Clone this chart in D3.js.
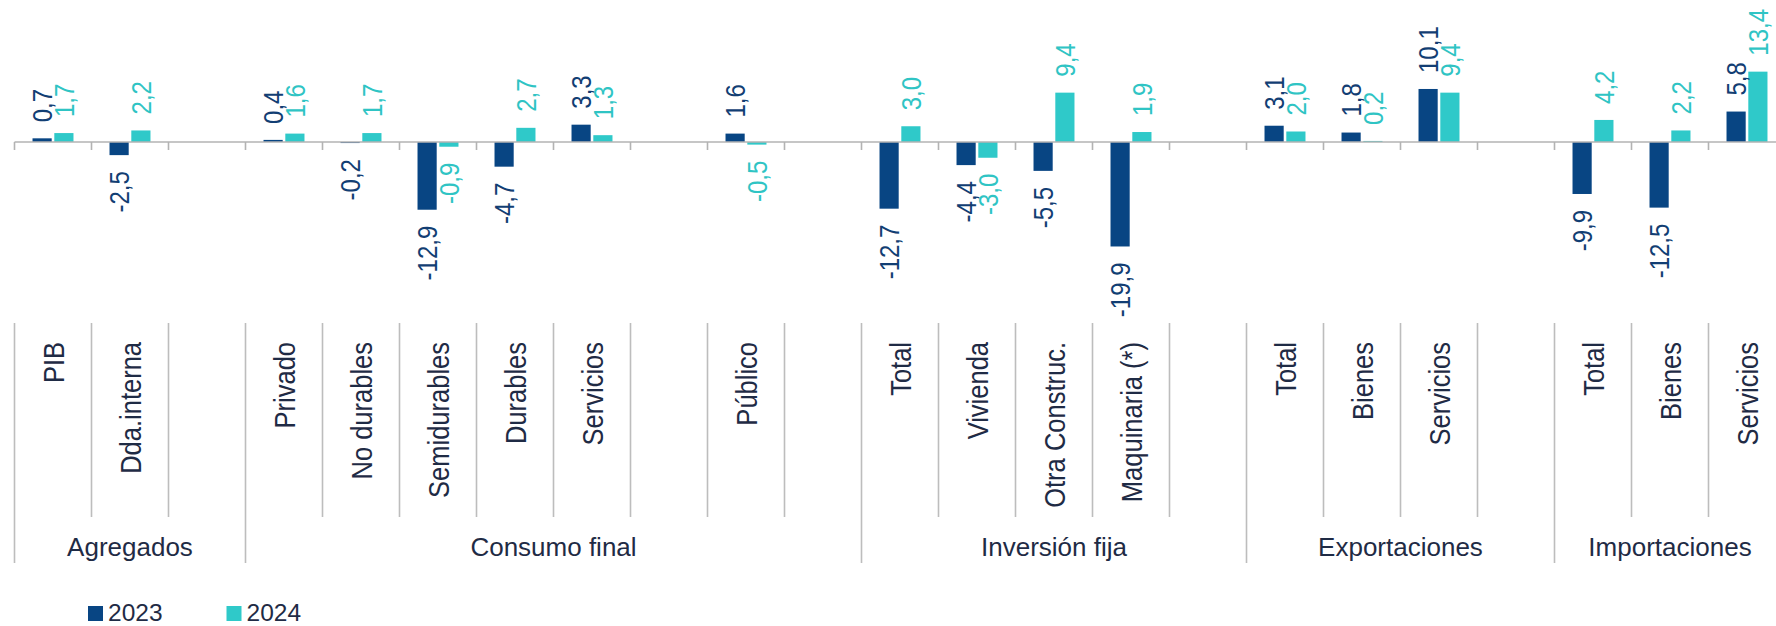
<!DOCTYPE html>
<html>
<head>
<meta charset="utf-8">
<script src="https://cdn.jsdelivr.net/npm/d3@7"></script>
<style>
  html, body { margin: 0; padding: 0; background: #ffffff; }
  svg { display: block; font-family: "Liberation Sans", Arial, sans-serif; }
</style>
</head>
<body>
<svg id="chart" width="1776" height="626"></svg>
<script>
// Category slots (empty strings are spacer slots between subgroups)
const categories = [
  "PIB", "Dda.interna", "",
  "Privado", "No durables", "Semidurables", "Durables", "Servicios", "", "Público", "",
  "Total", "Vivienda", "Otra Construc.", "Maquinaria (*)", "",
  "Total", "Bienes", "Servicios", "",
  "Total", "Bienes", "Servicios"
];
// Outer groups: label and number of slots each spans
const groupNames = ["Agregados", "Consumo final", "Inversión fija", "Exportaciones", "Importaciones"];
const groupSpans = [3, 8, 5, 4, 3];

const seriesNames = ["2023", "2024"];
const values2023 = [0.7, -2.5, null, 0.4, -0.2, -12.9, -4.7, 3.3, null, 1.6, null,
                    -12.7, -4.4, -5.5, -19.9, null, 3.1, 1.8, 10.1, null, -9.9, -12.5, 5.8];
const values2024 = [1.7, 2.2, null, 1.6, 1.7, -0.9, 2.7, 1.3, null, -0.5, null,
                    3.0, -3.0, 9.4, 1.9, null, 2.0, 0.2, 9.4, null, 4.2, 2.2, 13.4];

const colors = { "2023": "#084583", "2024": "#2fc9c9" };
const labelColors = { "2023": "#123e73", "2024": "#2fc4c4" };
const textColor = "#1f2b45";
const gridGrey = "#bdbdbd";
// rotated labels are drawn slightly wider across the glyphs
const rotStretch = 1.17;

const svg = d3.select("#chart");

const x = d3.scaleBand()
  .domain(d3.range(categories.length))
  .range([14.5, 1785.5])
  .paddingInner(0).paddingOuter(0);
const bw = x.bandwidth();

const x1 = d3.scaleBand()
  .domain(seriesNames)
  .range([bw * 0.234, bw * 0.766])
  .paddingInner(0.12);

const y = d3.scaleLinear().domain([-20, 15]).range([247, 63.25]);
const y0 = y(0);

const rows = categories.map((c, i) => ({
  i, cat: c,
  vals: [
    { s: "2023", v: values2023[i] },
    { s: "2024", v: values2024[i] }
  ].filter(d => d.v !== null)
}));

// Bars
const slot = svg.append("g").selectAll("g")
  .data(rows).join("g")
  .attr("transform", d => `translate(${x(d.i)},0)`);

slot.selectAll("rect")
  .data(d => d.vals).join("rect")
  .attr("x", d => x1(d.s))
  .attr("width", x1.bandwidth())
  .attr("y", d => Math.min(y(d.v), y0))
  .attr("height", d => Math.abs(y(d.v) - y0))
  .attr("fill", d => colors[d.s]);

// Zero axis with tick marks at slot boundaries
const axisG = svg.append("g");
axisG.append("line")
  .attr("x1", x.range()[0]).attr("x2", x.range()[1])
  .attr("y1", y0).attr("y2", y0)
  .attr("stroke", "#b3b3b3").attr("stroke-width", 1.6);
const boundaries = d3.range(categories.length + 1).map(i => x.range()[0] + i * bw);
axisG.selectAll("line.tick")
  .data(boundaries).join("line")
  .attr("class", "tick")
  .attr("x1", d => d).attr("x2", d => d)
  .attr("y1", y0).attr("y2", y0 + 8)
  .attr("stroke", "#b3b3b3").attr("stroke-width", 1.6);

// Value labels (rotated)
const fmt = v => d3.format(".1f")(v).replace(".", ",").replace("−", "-");
slot.selectAll("text.val")
  .data(d => d.vals).join("text")
  .attr("class", "val")
  .attr("transform", d => {
    const cx = x1(d.s) + x1.bandwidth() / 2;
    const yy = d.v >= 0 ? y(d.v) - 16 : y(d.v) + 16;
    return `translate(${cx},${yy}) scale(${rotStretch},1) rotate(-90)`;
  })
  .attr("text-anchor", d => d.v >= 0 ? "start" : "end")
  .attr("dy", "0.36em")
  .attr("font-size", 24)
  .attr("fill", d => labelColors[d.s])
  .text(d => fmt(d.v));

// Category labels area
const labTop = 323, labBottom = 517, groupBottom = 563;
const groupStarts = [0];
groupSpans.forEach((s, k) => groupStarts.push(groupStarts[k] + s));
const groupBoundarySet = new Set(groupStarts);

svg.append("g").selectAll("line")
  .data(d3.range(categories.length + 1)).join("line")
  .attr("x1", i => x.range()[0] + i * bw)
  .attr("x2", i => x.range()[0] + i * bw)
  .attr("y1", labTop)
  .attr("y2", i => groupBoundarySet.has(i) ? groupBottom : labBottom)
  .attr("stroke", gridGrey).attr("stroke-width", 1.6);

svg.append("g").selectAll("text")
  .data(rows.filter(d => d.cat !== "")).join("text")
  .attr("transform", d => `translate(${x(d.i) + bw / 2},342) scale(${rotStretch},1) rotate(-90)`)
  .attr("text-anchor", "end")
  .attr("dy", "0.36em")
  .attr("font-size", 25.5)
  .attr("fill", textColor)
  .text(d => d.cat);

// Group labels
svg.append("g").selectAll("text")
  .data(groupNames).join("text")
  .attr("x", (g, k) => x.range()[0] + (groupStarts[k] + groupSpans[k] / 2) * bw)
  .attr("y", 556)
  .attr("text-anchor", "middle")
  .attr("font-size", 26)
  .attr("fill", textColor)
  .text(g => g);

// Legend
const legend = svg.append("g").selectAll("g")
  .data(seriesNames).join("g")
  .attr("transform", (s, k) => `translate(${88 + k * 138.5},606)`);
legend.append("rect")
  .attr("width", 15).attr("height", 15)
  .attr("fill", s => colors[s]);
legend.append("text")
  .attr("x", 20).attr("y", 14.5)
  .attr("font-size", 24.5)
  .attr("fill", textColor)
  .text(s => s);
</script>
</body>
</html>
